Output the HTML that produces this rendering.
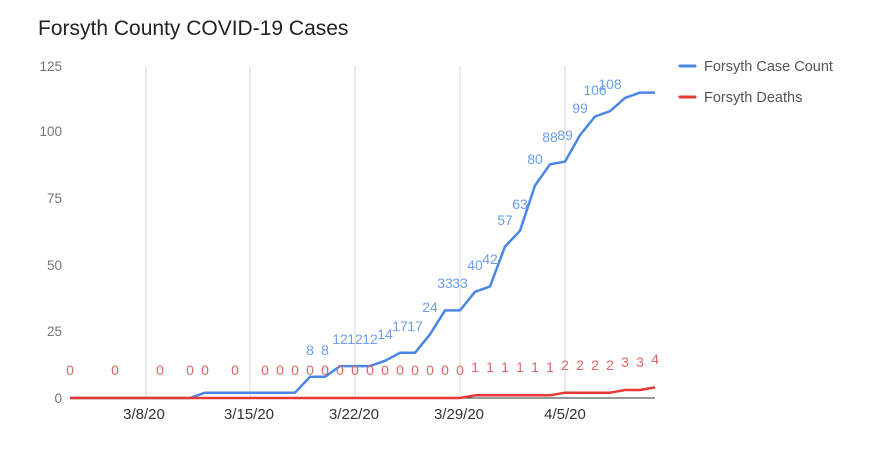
<!DOCTYPE html>
<html><head><meta charset="utf-8"><style>
html,body{margin:0;padding:0;background:#fff;}
svg{display:block;font-family:"Liberation Sans",Arial,sans-serif;}
</style></head><body>
<svg width="880" height="475" viewBox="0 0 880 475" xmlns="http://www.w3.org/2000/svg">
<rect width="880" height="475" fill="#fff"/>
<text x="38" y="35" font-size="21" fill="#222">Forsyth County COVID-19 Cases</text>
<g font-size="13.5" fill="#757575" text-anchor="end">
<text x="62" y="71">125</text><text x="62" y="136">100</text><text x="62" y="203">75</text>
<text x="62" y="270">50</text><text x="62" y="336">25</text><text x="62" y="403">0</text>
</g>
<g stroke="#d9d9d9" stroke-width="1">
<line x1="146" y1="66" x2="146" y2="398"/><line x1="250" y1="66" x2="250" y2="398"/>
<line x1="355" y1="66" x2="355" y2="398"/><line x1="460" y1="66" x2="460" y2="398"/>
<line x1="565" y1="66" x2="565" y2="398"/>
</g>
<line x1="70" y1="398" x2="655" y2="398" stroke="#333" stroke-width="1"/>
<g font-size="15" fill="#333" text-anchor="middle">
<text x="144" y="419">3/8/20</text><text x="249" y="419">3/15/20</text><text x="354" y="419">3/22/20</text>
<text x="459" y="419">3/29/20</text><text x="565" y="419">4/5/20</text>
</g>
<polyline fill="none" stroke="#4a86e8" stroke-width="2.5" stroke-linejoin="round" points="70,398 190,398 205,392.7 295,392.7 310,376.8 325,376.8 340,366.1 355,366.1 370,366.1 385,360.8 400,352.8 415,352.8 430,334.3 445,310.4 460,310.4 475,291.8 490,286.4 505,246.6 520,230.7 535,185.5 550,164.3 565,161.6 580,135.1 595,116.5 610,111.2 625,97.9 640,92.6 655,92.6"/>
<polyline fill="none" stroke="#e53935" stroke-width="2.5" stroke-linejoin="round" points="70,398 460,398 475,395.3 550,395.3 565,392.7 610,392.7 625,390 640,390 655,387.4"/>
<g font-size="14" fill="#6d9eeb" text-anchor="middle">
<text x="310" y="355">8</text><text x="325" y="355">8</text>
<text x="340" y="344">12</text><text x="355" y="344">12</text><text x="370" y="344">12</text>
<text x="385" y="339">14</text><text x="400" y="331">17</text><text x="415" y="331">17</text>
<text x="430" y="312">24</text><text x="445" y="288">33</text><text x="460" y="288">33</text>
<text x="475" y="270">40</text><text x="490" y="264">42</text><text x="505" y="225">57</text>
<text x="520" y="209">63</text><text x="535" y="164">80</text><text x="550" y="142">88</text>
<text x="565" y="140">89</text><text x="580" y="113">99</text><text x="595" y="95">106</text>
<text x="610" y="89">108</text>
</g>
<g font-size="14" fill="#e06666" text-anchor="middle">
<text x="70" y="375">0</text><text x="115" y="375">0</text><text x="160" y="375">0</text><text x="190" y="375">0</text>
<text x="205" y="375">0</text><text x="235" y="375">0</text><text x="265" y="375">0</text><text x="280" y="375">0</text>
<text x="295" y="375">0</text><text x="310" y="375">0</text><text x="325" y="375">0</text><text x="340" y="375">0</text>
<text x="355" y="375">0</text><text x="370" y="375">0</text><text x="385" y="375">0</text><text x="400" y="375">0</text>
<text x="415" y="375">0</text><text x="430" y="375">0</text><text x="445" y="375">0</text><text x="460" y="375">0</text>
<text x="475" y="372">1</text><text x="490" y="372">1</text><text x="505" y="372">1</text><text x="520" y="372">1</text>
<text x="535" y="372">1</text><text x="550" y="372">1</text>
<text x="565" y="370">2</text><text x="580" y="370">2</text><text x="595" y="370">2</text><text x="610" y="370">2</text>
<text x="625" y="367">3</text><text x="640" y="367">3</text><text x="655" y="364">4</text>
</g>
<line x1="680" y1="66" x2="695" y2="66" stroke="#4a86e8" stroke-width="3" stroke-linecap="round"/>
<text x="704" y="71" font-size="14.5" fill="#555">Forsyth Case Count</text>
<line x1="680" y1="97" x2="695" y2="97" stroke="#e53935" stroke-width="3" stroke-linecap="round"/>
<text x="704" y="102" font-size="14.5" fill="#555">Forsyth Deaths</text>
</svg>
</body></html>
